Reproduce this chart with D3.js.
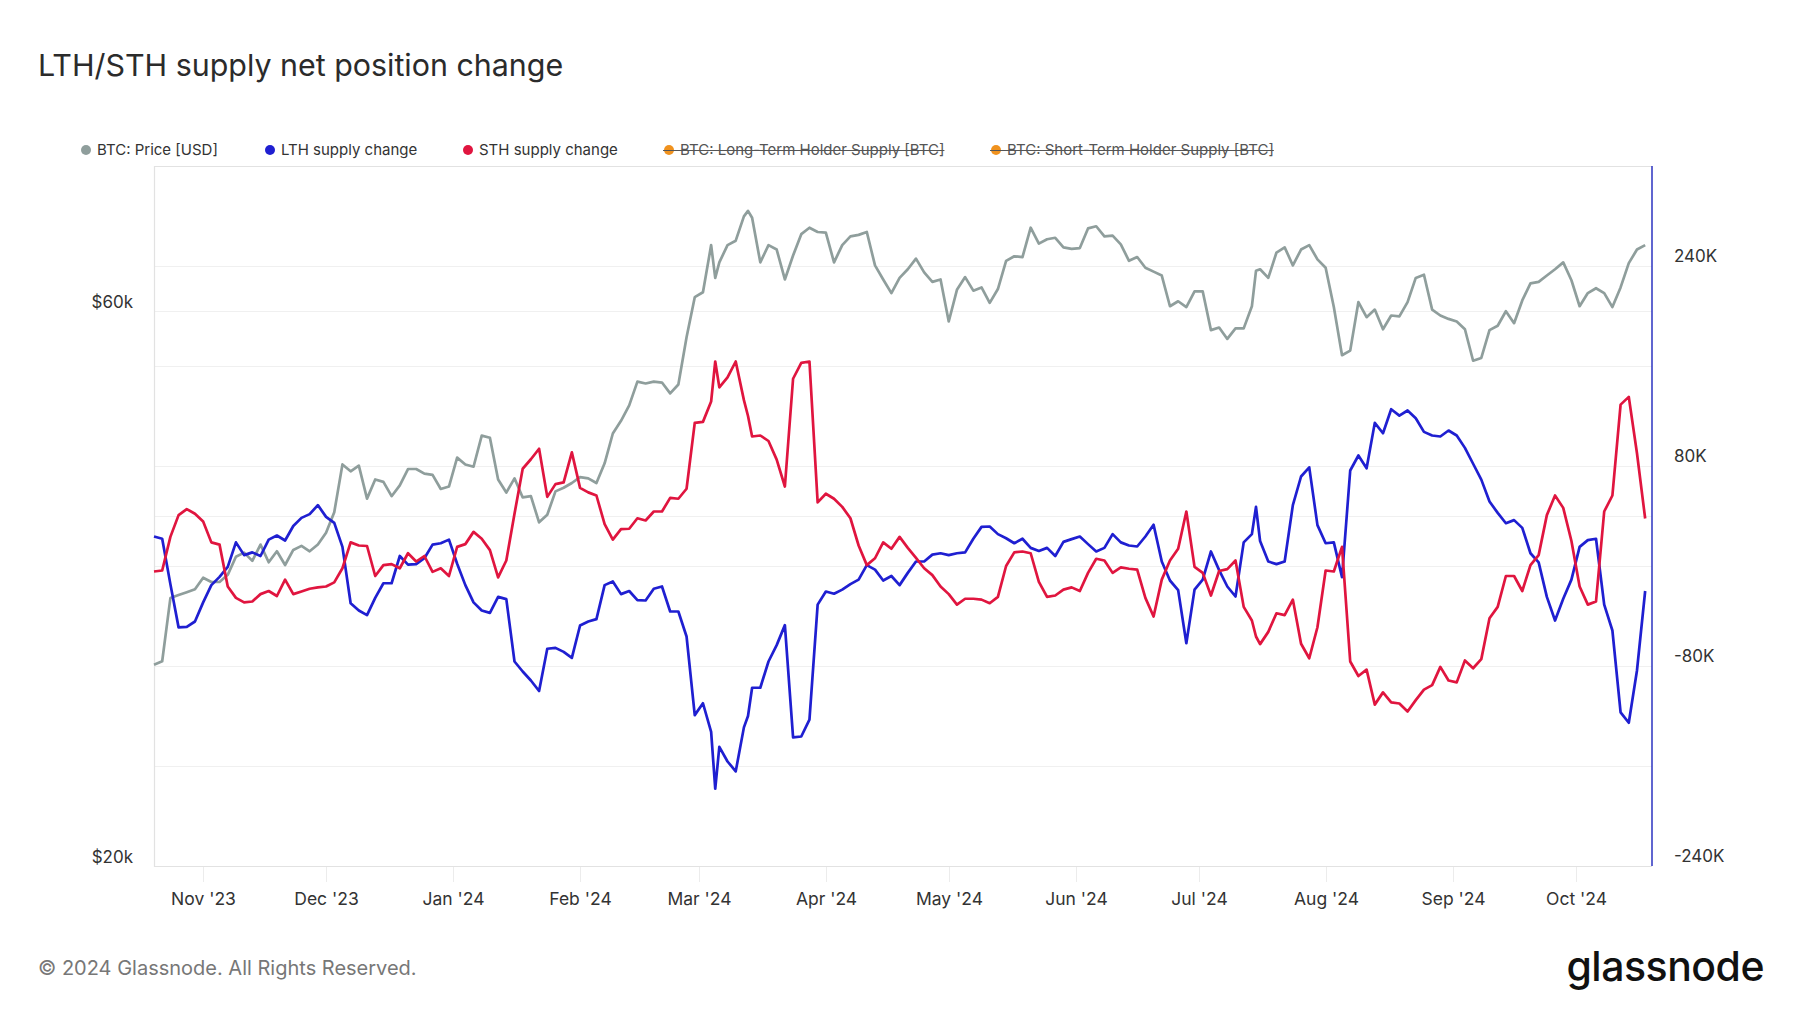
<!DOCTYPE html>
<html>
<head>
<meta charset="utf-8">
<script src="https://cdn.jsdelivr.net/npm/d3@7"></script>
<style>
  html, body { margin: 0; padding: 0; background: #fff; }
  svg { display: block; font-family: Inter, "Noto Sans", sans-serif; }
</style>
</head>
<body>
<svg id="chart" width="1800" height="1013"></svg>
<script>
// values, every 2nd day (plus a few spike days)
const dates = [
  "2023-10-20","2023-10-22","2023-10-24","2023-10-26","2023-10-28","2023-10-30","2023-11-01","2023-11-03","2023-11-05","2023-11-07",
  "2023-11-09","2023-11-11","2023-11-13","2023-11-15","2023-11-17","2023-11-19","2023-11-21","2023-11-23","2023-11-25","2023-11-27",
  "2023-11-29","2023-12-01","2023-12-03","2023-12-05","2023-12-07","2023-12-09","2023-12-11","2023-12-13","2023-12-15","2023-12-17",
  "2023-12-19","2023-12-21","2023-12-23","2023-12-25","2023-12-27","2023-12-29","2023-12-31","2024-01-02","2024-01-04","2024-01-06",
  "2024-01-08","2024-01-10","2024-01-12","2024-01-14","2024-01-16","2024-01-18","2024-01-20","2024-01-22","2024-01-24","2024-01-26",
  "2024-01-28","2024-01-30","2024-02-01","2024-02-03","2024-02-05","2024-02-07","2024-02-09","2024-02-11","2024-02-13","2024-02-15",
  "2024-02-17","2024-02-19","2024-02-21","2024-02-23","2024-02-25","2024-02-27","2024-02-29","2024-03-02","2024-03-04","2024-03-05",
  "2024-03-06","2024-03-08","2024-03-10","2024-03-12","2024-03-13","2024-03-14","2024-03-16","2024-03-18","2024-03-20","2024-03-22",
  "2024-03-24","2024-03-26","2024-03-28","2024-03-30","2024-04-01","2024-04-03","2024-04-05","2024-04-07","2024-04-09","2024-04-11",
  "2024-04-13","2024-04-15","2024-04-17","2024-04-19","2024-04-21","2024-04-23","2024-04-25","2024-04-27","2024-04-29","2024-05-01",
  "2024-05-03","2024-05-05","2024-05-07","2024-05-09","2024-05-11","2024-05-13","2024-05-15","2024-05-17","2024-05-19","2024-05-21",
  "2024-05-23","2024-05-25","2024-05-27","2024-05-29","2024-05-31","2024-06-02","2024-06-04","2024-06-06","2024-06-08","2024-06-10",
  "2024-06-12","2024-06-14","2024-06-16","2024-06-18","2024-06-20","2024-06-22","2024-06-24","2024-06-26","2024-06-28","2024-06-30",
  "2024-07-02","2024-07-04","2024-07-06","2024-07-08","2024-07-10","2024-07-12","2024-07-14","2024-07-15","2024-07-16","2024-07-18",
  "2024-07-20","2024-07-22","2024-07-24","2024-07-26","2024-07-28","2024-07-30","2024-08-01","2024-08-03","2024-08-05","2024-08-07",
  "2024-08-09","2024-08-11","2024-08-13","2024-08-15","2024-08-17","2024-08-19","2024-08-21","2024-08-23","2024-08-25","2024-08-27",
  "2024-08-29","2024-08-31","2024-09-02","2024-09-04","2024-09-06","2024-09-08","2024-09-10","2024-09-12","2024-09-14","2024-09-16",
  "2024-09-18","2024-09-20","2024-09-22","2024-09-24","2024-09-26","2024-09-28","2024-09-30","2024-10-02","2024-10-04","2024-10-06",
  "2024-10-08","2024-10-10","2024-10-12","2024-10-14","2024-10-16","2024-10-18"
];

// BTC price, thousands of USD
const price = [
  29.8,30.0,34.0,34.2,34.4,34.6,35.4,35.1,35.1,35.6,
  36.9,37.2,36.6,37.8,36.5,37.3,36.3,37.4,37.7,37.3,
  37.8,38.7,40.3,44.3,43.7,44.2,41.4,43.0,42.8,41.6,
  42.5,43.9,43.9,43.5,43.4,42.2,42.4,44.9,44.3,44.1,
  46.9,46.7,43.0,41.9,43.1,41.5,41.6,39.5,40.1,42.0,
  42.3,42.7,43.2,43.1,42.7,44.4,47.1,48.3,49.8,52.2,
  52.0,52.2,52.1,51.0,51.9,57.0,61.7,62.3,68.4,64.1,
  66.1,68.4,69.0,72.4,73.2,72.2,66.1,68.4,67.8,63.9,
  67.0,69.9,70.8,70.2,70.1,66.1,68.4,69.6,69.8,70.2,
  65.7,63.9,62.2,64.1,65.2,66.6,64.8,63.6,63.9,58.8,
  62.6,64.2,62.5,62.9,61.0,62.7,66.3,66.9,66.8,70.8,
  68.6,69.2,69.4,68.1,67.9,68.0,70.7,71.0,69.6,69.7,
  68.5,66.3,66.8,65.4,64.9,64.4,60.6,61.2,60.5,62.4,
  62.4,57.8,58.1,56.8,58.0,58.0,60.6,65.0,65.2,64.1,
  67.4,68.1,65.7,67.8,68.4,66.5,65.4,60.5,55.0,55.5,
  61.1,59.3,60.2,57.9,59.5,59.4,61.1,64.1,64.5,60.2,
  59.5,59.1,58.8,57.9,54.4,54.7,57.8,58.3,60.0,58.6,
  61.3,63.4,63.6,64.4,65.2,66.1,63.8,60.6,62.2,62.8,
  62.2,60.5,62.9,66.0,67.8,68.4
];

// LTH supply change, thousands of BTC
const lthChange = [
  23.6,21.8,-14.5,-49.1,-48.7,-44.4,-29.1,-15.3,-8.7,-0.7,
  18.9,8.7,10.9,8.0,21.1,24.4,20.4,32.0,38.5,41.5,
  48.7,39.3,34.5,15.3,-29.8,-35.6,-39.3,-25.5,-13.8,-13.8,
  8.0,1.1,1.5,6.2,17.1,18.2,21.1,1.8,-15.3,-29.1,
  -35.6,-37.5,-24.7,-26.5,-76.4,-84.4,-91.6,-100.0,-66.2,-65.5,
  -68.7,-73.5,-47.6,-44.4,-42.5,-15.3,-12.4,-22.5,-20.0,-27.3,
  -27.6,-18.2,-16.4,-36.4,-36.4,-56.4,-119.3,-109.8,-132.7,-178.2,
  -144.7,-156.4,-164.3,-129.1,-120.0,-97.4,-97.4,-76.4,-63.3,-47.3,
  -137.1,-136.4,-122.9,-30.9,-20.4,-22.2,-18.9,-14.5,-10.9,0.7,
  -2.9,-11.6,-8.0,-15.3,-5.5,3.6,3.6,9.1,10.2,8.7,
  10.2,10.9,21.8,31.3,31.6,25.5,22.2,18.2,21.8,14.5,
  12.0,14.5,8.0,19.3,21.5,23.6,17.5,11.6,14.5,25.5,
  18.9,16.4,15.6,23.6,33.0,3.6,-11.6,-19.3,-61.8,-18.9,
  -10.9,11.6,-3.3,-16.4,-24.4,18.9,25.5,47.3,20.0,3.6,
  1.5,3.6,48.7,71.6,78.9,32.7,18.2,18.9,-9.0,76.4,
  88.4,78.2,114.5,106.2,125.4,120.3,124.4,118.2,107.3,104.4,
  103.6,108.4,104.4,94.5,81.8,69.1,51.6,42.5,34.2,36.7,
  30.5,10.2,2.9,-24.7,-43.6,-26.2,-10.9,15.3,20.7,21.8,
  -30.9,-51.6,-117.1,-125.4,-83.6,-20.0
];

// STH supply change, thousands of BTC
const sthChange = [
  -4.4,-3.6,23.3,40.7,45.5,41.8,35.6,18.9,17.1,-16.4,
  -25.5,-29.1,-28.4,-22.5,-20.0,-24.0,-10.9,-22.5,-20.4,-18.2,
  -17.1,-16.4,-13.1,-1.8,18.9,16.4,16.0,-8.0,0.7,1.5,
  -1.8,10.2,3.6,8.0,-4.7,-1.8,-8.0,15.3,17.5,27.3,
  21.8,12.7,-9.1,4.4,41.8,77.8,85.4,93.8,55.3,65.5,
  66.9,90.9,62.5,58.9,56.4,33.5,21.1,29.5,29.8,38.2,
  36.4,43.6,43.6,54.5,53.8,61.8,114.5,115.3,131.6,163.6,
  142.9,150.9,163.6,132.7,120.0,103.6,104.4,100.0,85.1,63.6,
  149.8,162.5,163.6,50.9,57.8,53.8,47.3,38.2,16.4,0.7,
  6.2,18.9,13.8,23.3,14.5,6.5,-1.8,-7.3,-16.4,-22.5,
  -30.9,-26.2,-26.2,-26.9,-29.8,-24.7,0.0,10.9,11.6,10.2,
  -12.7,-24.7,-23.6,-18.9,-17.1,-20.0,-5.5,5.8,4.4,-5.5,
  -1.1,-2.2,-2.9,-25.5,-40.4,-10.9,4.4,13.8,43.6,-0.7,
  -5.5,-23.6,-4.0,-2.5,4.4,-32.7,-43.6,-56.4,-62.5,-52.7,
  -37.8,-39.3,-26.9,-62.2,-73.8,-49.0,-3.6,-4.4,15.3,-76.4,
  -88.0,-82.9,-110.9,-101.1,-109.1,-110.0,-116.4,-107.3,-98.9,-95.3,
  -80.7,-91.6,-93.1,-75.6,-81.8,-74.5,-41.8,-32.7,-8.0,-8.0,
  -20.0,0.7,8.7,40.7,56.4,46.5,20.0,-16.4,-30.9,-28.4,
  43.6,56.4,129.1,135.3,90.2,38.0
];

const legendItems = [
  { label: "BTC: Price [USD]", color: "#8f9e9c", off: false, cx: 86 },
  { label: "LTH supply change", color: "#1f1fd1", off: false, cx: 270 },
  { label: "STH supply change", color: "#e0153f", off: false, cx: 468 },
  { label: "BTC: Long-Term Holder Supply [BTC]", color: "#f0921e", off: true, cx: 669 },
  { label: "BTC: Short-Term Holder Supply [BTC]", color: "#f0921e", off: true, cx: 996 }
];
const monthTicks = ["2023-11-01","2023-12-01","2024-01-01","2024-02-01","2024-03-01","2024-04-01",
  "2024-05-01","2024-06-01","2024-07-01","2024-08-01","2024-09-01","2024-10-01"];
const rightTicks = [-240000, -80000, 80000, 240000];
const rightGrid = [-160000, -80000, 0, 80000, 160000, 240000];
const leftTicks = [20000, 60000];
const leftGrid = [40000, 60000];

const parse = d3.utcParse("%Y-%m-%d");
const rows = dates.map((d, i) => ({
  date: parse(d),
  price: price[i] * 1000,
  lth: lthChange[i] * 1000,
  sth: sthChange[i] * 1000
}));

const svg = d3.select("#chart");
const pL = 154, pR = 1652, pT = 166, pB = 866;

const x = d3.scaleUtc()
  .domain([Date.UTC(2023, 9, 20), Date.UTC(2024, 9, 19, 16)])
  .range([pL, pR]);
const yL = d3.scaleLog().domain([20000, 80000]).range([pB, pT]);
const yR = d3.scaleLinear().domain([-240000, 320000]).range([pB, pT]);

// title
svg.append("text")
  .attr("x", 38).attr("y", 76)
  .attr("font-size", 30.4)
  .attr("fill", "#2b2b2b")
  .text("LTH/STH supply net position change");

// legend
const lg = svg.append("g");
legendItems.forEach(it => {
  const g = lg.append("g");
  g.append("circle").attr("cx", it.cx).attr("cy", 150).attr("r", 5).attr("fill", it.color);
  const t = g.append("text")
    .attr("x", it.cx + 11).attr("y", 150)
    .attr("dy", "0.35em")
    .attr("font-size", 15)
    .attr("fill", it.off ? "#555" : "#333")
    .text(it.label);
  if (it.off) {
    const w = t.node().getComputedTextLength();
    g.append("line")
      .attr("x1", it.cx - 6).attr("x2", it.cx + 11 + w)
      .attr("y1", 150.5).attr("y2", 150.5)
      .attr("stroke", "#555").attr("stroke-width", 1);
  }
});

// grid
svg.append("g").selectAll("line")
  .data(rightGrid)
  .join("line")
  .attr("x1", pL).attr("x2", pR)
  .attr("y1", d => Math.round(yR(d)) + 0.5).attr("y2", d => Math.round(yR(d)) + 0.5)
  .attr("stroke", "#f0f0f0");
svg.append("g").selectAll("line")
  .data(leftGrid)
  .join("line")
  .attr("x1", pL).attr("x2", pR)
  .attr("y1", d => Math.round(yL(d)) + 0.5).attr("y2", d => Math.round(yL(d)) + 0.5)
  .attr("stroke", "#f0f0f0");

// frame
svg.append("path")
  .attr("d", `M${pR},${pT + 0.5}H${pL + 0.5}V${pB + 0.5}H${pR}`)
  .attr("fill", "none").attr("stroke", "#e2e2e2").attr("stroke-width", 1.2);
svg.append("line")
  .attr("x1", pR).attr("x2", pR).attr("y1", pT).attr("y2", pB)
  .attr("stroke", "#2b33c0").attr("stroke-width", 1.5);

// x axis
const xt = svg.append("g");
monthTicks.forEach(m => {
  const xx = Math.round(x(parse(m))) + 0.5;
  xt.append("line").attr("x1", xx).attr("x2", xx).attr("y1", pB + 1).attr("y2", pB + 16)
    .attr("stroke", "#ececec");
  xt.append("text")
    .attr("x", xx).attr("y", 899).attr("dy", "0.35em")
    .attr("text-anchor", "middle")
    .attr("font-size", 17.5).attr("fill", "#333")
    .text(d3.utcFormat("%b '%y")(parse(m)));
});

// left axis labels
svg.append("g").selectAll("text")
  .data(leftTicks)
  .join("text")
  .attr("x", 133).attr("y", d => yL(d) - 9).attr("dy", "0.35em")
  .attr("text-anchor", "end")
  .attr("font-size", 17).attr("fill", "#333")
  .text(d => "$" + d / 1000 + "k");

// right axis labels
svg.append("g").selectAll("text")
  .data(rightTicks)
  .join("text")
  .attr("x", 1674).attr("y", d => yR(d) - 10).attr("dy", "0.35em")
  .attr("font-size", 17).attr("fill", "#333")
  .text(d => d / 1000 + "K");

// lines
const priceLine = d3.line().x(d => x(d.date)).y(d => yL(d.price));
const lthLine = d3.line().x(d => x(d.date)).y(d => yR(d.lth));
const sthLine = d3.line().x(d => x(d.date)).y(d => yR(d.sth));

svg.append("path").datum(rows).attr("d", priceLine)
  .attr("fill", "none").attr("stroke", "#8f9e9c").attr("stroke-width", 2.7).attr("stroke-linejoin", "round");
svg.append("path").datum(rows).attr("d", lthLine)
  .attr("fill", "none").attr("stroke", "#1f1fd1").attr("stroke-width", 2.7).attr("stroke-linejoin", "round");
svg.append("path").datum(rows).attr("d", sthLine)
  .attr("fill", "none").attr("stroke", "#e0153f").attr("stroke-width", 2.7).attr("stroke-linejoin", "round");

// footer
svg.append("text")
  .attr("x", 38).attr("y", 968).attr("dy", "0.35em")
  .attr("font-size", 20).attr("fill", "#777")
  .text("© 2024 Glassnode. All Rights Reserved.");
svg.append("text")
  .attr("x", 1764).attr("y", 981)
  .attr("text-anchor", "end")
  .attr("font-size", 41).attr("font-weight", 500).attr("fill", "#111")
  .attr("letter-spacing", -0.5)
  .text("glassnode");
</script>
</body>
</html>
